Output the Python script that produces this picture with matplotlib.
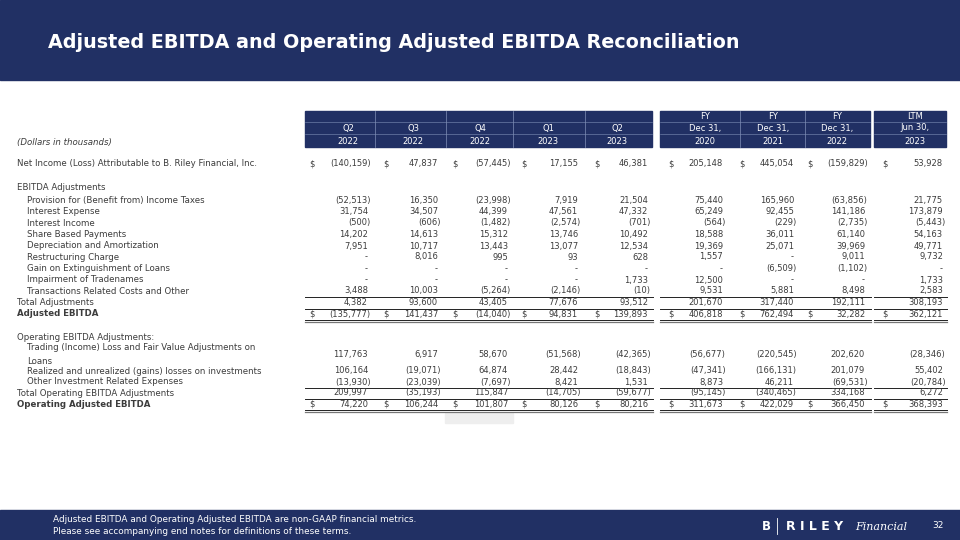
import matplotlib.pyplot as plt
from matplotlib.patches import Rectangle

# ---- data (dollars in thousands) ----
col_top = ["", "", "", "", "", "FY", "FY", "FY", "LTM"]
col_mid = ["Q2", "Q3", "Q4", "Q1", "Q2", "Dec 31,", "Dec 31,", "Dec 31,", "Jun 30,"]
col_bot = ["2022", "2022", "2022", "2023", "2023", "2020", "2021", "2022", "2023"]

net_income = [-140159, 47837, -57445, 17155, 46381, 205148, 445054, -159829, 53928]
provision = [-52513, 16350, -23998, 7919, 21504, 75440, 165960, -63856, 21775]
interest_exp = [31754, 34507, 44399, 47561, 47332, 65249, 92455, 141186, 173879]
interest_inc = [-500, -606, -1482, -2574, -701, -564, -229, -2735, -5443]
share_based = [14202, 14613, 15312, 13746, 10492, 18588, 36011, 61140, 54163]
dep_amort = [7951, 10717, 13443, 13077, 12534, 19369, 25071, 39969, 49771]
restructuring = [None, 8016, 995, 93, 628, 1557, None, 9011, 9732]
gain_loans = [None, None, None, None, None, None, -6509, -1102, None]
impairment = [None, None, None, None, 1733, 12500, None, None, 1733]
transactions = [3488, 10003, -5264, -2146, -10, 9531, 5881, 8498, 2583]
total_adj = [4382, 93600, 43405, 77676, 93512, 201670, 317440, 192111, 308193]
adj_ebitda = [-135777, 141437, -14040, 94831, 139893, 406818, 762494, 32282, 362121]

trading = [117763, 6917, 58670, -51568, -42365, -56677, -220545, 202620, -28346]
realized = [106164, -19071, 64874, 28442, -18843, -47341, -166131, 201079, 55402]
other_inv = [-13930, -23039, -7697, 8421, 1531, 8873, 46211, -69531, -20784]
total_op = [209997, -35193, 115847, -14705, -59677, -95145, -340465, 334168, 6272]
op_adj_ebitda = [74220, 106244, 101807, 80126, 80216, 311673, 422029, 366450, 368393]

NAVY = "#213064"
TXT = "#3c3c3c"
FS_LAB = 6.2
FS_VAL = 6.0

# column geometry (pixels)
col_right = [368, 438, 508, 578, 648, 723, 794, 865, 943]
col_dollar = [309, 383, 452, 521, 594, 668, 739, 807, 882]
col_center = [348, 413, 480, 548, 617, 705, 773, 837, 915]
col_sep = [375, 446, 513, 585, 740, 805]
groups = [(305, 652), (660, 870), (874, 946)]

fig = plt.figure(figsize=(9.6, 5.4), dpi=100)
ax = fig.add_axes([0, 0, 1, 1])
ax.set_xlim(0, 960)
ax.set_ylim(540, 0)
ax.axis("off")

# banners
ax.add_patch(Rectangle((0, 0), 960, 80, color=NAVY, zorder=0))
ax.add_patch(Rectangle((0, 510), 960, 30, color=NAVY, zorder=0))
ax.text(48, 43, "Adjusted EBITDA and Operating Adjusted EBITDA Reconciliation",
        color="white", fontsize=13.8, fontweight="bold", va="center")

# footer
ax.text(53, 520, "Adjusted EBITDA and Operating Adjusted EBITDA are non-GAAP financial metrics.",
        color="white", fontsize=6.4, va="center")
ax.text(53, 531, "Please see accompanying end notes for definitions of these terms.",
        color="white", fontsize=6.4, va="center")
ax.text(766, 526, "B", color="white", fontsize=8.5, fontweight="bold", va="center", ha="center")
ax.plot([777, 777], [518, 534], color="white", lw=0.6)
ax.text(786, 526, "R I L E Y", color="white", fontsize=9, fontweight="bold", va="center")
ax.text(855, 526.5, "Financial", color="white", fontsize=8, style="italic",
        family="DejaVu Serif", va="center")
ax.text(932, 526, "32", color="white", fontsize=6.5, va="center")

# table header boxes
for x0, x1 in groups:
    ax.add_patch(Rectangle((x0, 111), x1 - x0, 36, color=NAVY, zorder=1))
    for yy in (121.5, 134):
        ax.plot([x0, x1], [yy, yy], color="#8090b8", lw=0.4, zorder=2)
for xs in col_sep:
    ax.plot([xs, xs], [111, 147], color="#8090b8", lw=0.5, zorder=2)
for i in range(len(col_mid)):
    ax.text(col_center[i], 116.5, col_top[i], color="white", fontsize=6.0, ha="center", va="center", zorder=3)
    ax.text(col_center[i], 128, col_mid[i], color="white", fontsize=6.0, ha="center", va="center", zorder=3)
    ax.text(col_center[i], 141, col_bot[i], color="white", fontsize=6.0, ha="center", va="center", zorder=3)

ax.text(17, 142, "(Dollars in thousands)", color=TXT, fontsize=FS_LAB, style="italic", va="center")


def fmt(v):
    if v is None:
        return "-"
    if v < 0:
        return "({:,})".format(-v)
    return "{:,}".format(v)


def row(y, label, vals=None, indent=False, bold=False, dollar=False):
    ax.text(27 if indent else 17, y, label, color=TXT, fontsize=FS_LAB, va="center",
            fontweight="bold" if bold else "normal", linespacing=1.6)
    if vals is None:
        return
    for i, v in enumerate(vals):
        xr = col_right[i] + (2.5 if (v is not None and v < 0) else 0)
        ax.text(xr, y, fmt(v), color=TXT, fontsize=FS_VAL, ha="right", va="center")
        if dollar:
            ax.text(col_dollar[i], y, "$", color=TXT, fontsize=FS_VAL, ha="left", va="center")


def hline(y, double=False):
    for x0, x1 in groups:
        ax.plot([x0, x1 + 1], [y, y], color="#222222", lw=0.7)
        if double:
            ax.plot([x0, x1 + 1], [y + 2, y + 2], color="#777777", lw=0.9)


row(163.5, "Net Income (Loss) Attributable to B. Riley Financial, Inc.", net_income, dollar=True)
row(188, "EBITDA Adjustments")
row(200, "Provision for (Benefit from) Income Taxes", provision, indent=True)
row(211.5, "Interest Expense", interest_exp, indent=True)
row(223, "Interest Income", interest_inc, indent=True)
row(234.5, "Share Based Payments", share_based, indent=True)
row(246, "Depreciation and Amortization", dep_amort, indent=True)
row(257, "Restructuring Charge", restructuring, indent=True)
row(268.5, "Gain on Extinguishment of Loans", gain_loans, indent=True)
row(280, "Impairment of Tradenames", impairment, indent=True)
row(291, "Transactions Related Costs and Other", transactions, indent=True)
hline(297)
row(302.5, "Total Adjustments", total_adj)
hline(308.5)
row(314, "Adjusted EBITDA", adj_ebitda, bold=True, dollar=True)
hline(319.5, double=True)

row(337.5, "Operating EBITDA Adjustments:")
row(354.5, "Trading (Income) Loss and Fair Value Adjustments on\nLoans", trading, indent=True)
row(371, "Realized and unrealized (gains) losses on investments", realized, indent=True)
row(382, "Other Investment Related Expenses", other_inv, indent=True)
hline(387.5)
row(393, "Total Operating EBITDA Adjustments", total_op)
hline(398.5)
row(404.5, "Operating Adjusted EBITDA", op_adj_ebitda, bold=True, dollar=True)
hline(410, double=True)

ax.add_patch(Rectangle((445, 413), 68, 10, color="#eeeeee", zorder=0))

fig.savefig("out.png", dpi=100)
